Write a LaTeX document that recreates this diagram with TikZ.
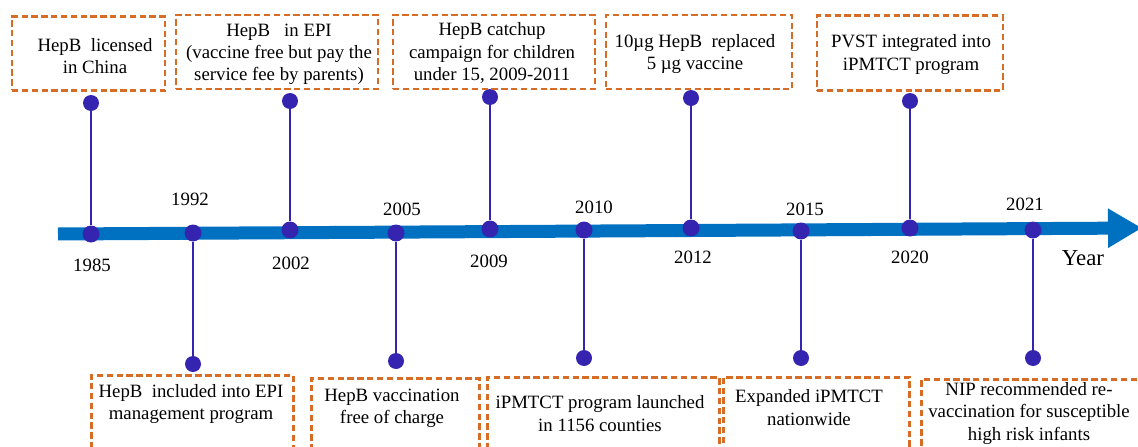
\documentclass[tikz,border=0pt]{standalone}
\usepackage{fontspec}
\setmainfont{Liberation Serif}
\usetikzlibrary{arrows.meta}
\definecolor{axisblue}{RGB}{0,112,192}
\definecolor{dotblue}{RGB}{52,36,176}
\definecolor{boxorange}{RGB}{214,108,38}
\tikzset{
  evbox/.style={draw=boxorange, line width=1.5pt, dash pattern=on 3.6pt off 2pt, inner sep=0pt},
  evtext/.style={align=center, font=\fontsize{10.7}{12.6}\selectfont, inner sep=0pt},
  yeartext/.style={font=\fontsize{10.7}{12.6}\selectfont, inner sep=0pt},
  bigdot/.style={circle, fill=dotblue, minimum size=0.34cm, inner sep=0pt},
  enddot/.style={circle, fill=dotblue, minimum size=0.32cm, inner sep=0pt},
  stem/.style={draw=dotblue, line width=1.4pt},
}
\begin{document}
\begin{tikzpicture}[x=0.02cm, y=-0.02cm]
\useasboundingbox (0,0) rectangle (1138,446);
\clip (0,0) rectangle (1138,446);
% Time axis
\coordinate (axstart) at (58,234);
\coordinate (axend) at (1142,228);
\draw[axisblue, line width=0.26cm, -{Triangle[length=0.68cm, width=0.74cm]}] (axstart) -- (axend);
\node[font=\fontsize{13}{15}\selectfont, inner sep=0pt] (year) at (1083,258) {Year};
% Events: dot on the axis, stem, end dot
\foreach \yr/\px/\ay/\ey in {1985/91/234/103, 1992/193/233/364, 2002/290/230/101,
    2005/396/233/361, 2009/490/229/97, 2010/584/230/358, 2012/691/228/98,
    2015/801/231/358, 2020/910/228/101, 2021/1033/230/358} {
  \node[bigdot] (d\yr) at (\px,\ay) {};
  \node[enddot] (e\yr) at (\px,\ey) {};
  \draw[stem] (d\yr) -- (e\yr);
}
% Year labels
\node[yeartext] (y1985) at (92,265) {1985};
\node[yeartext] (y1992) at (190,199) {1992};
\node[yeartext] (y2002) at (291,263) {2002};
\node[yeartext] (y2005) at (402,209) {2005};
\node[yeartext] (y2009) at (489,261) {2009};
\node[yeartext] (y2010) at (594,207) {2010};
\node[yeartext] (y2012) at (693,257) {2012};
\node[yeartext] (y2015) at (805,209) {2015};
\node[yeartext] (y2020) at (910,257) {2020};
\node[yeartext] (y2021) at (1025,204) {2021};
% Upper boxes
\node[evbox, minimum width=3.06cm, minimum height=1.48cm] (b1985) at (88.5,53.5) {};
\node[evtext] (t1985) at (95,56.5) {HepB\ \ licensed\\in China};
\node[evbox, minimum width=4.04cm, minimum height=1.48cm] (b2002) at (277,52) {};
\node[evtext] (t2002) at (279,54) {HepB\ \ \ in EPI\\(vaccine free but pay the\\service fee by parents)};
\node[evbox, minimum width=4.04cm, minimum height=1.48cm] (b2009) at (494,52) {};
\node[evtext] (t2009) at (492,53) {HepB catchup\\campaign for children\\under 15, 2009-2011};
\node[evbox, minimum width=3.72cm, minimum height=1.48cm] (b2012) at (699,52) {};
\node[evtext] (t2012) at (695,54) {10µg HepB\ \ replaced\\5 µg vaccine};
\node[evbox, minimum width=3.72cm, minimum height=1.5cm] (b2020) at (910,53) {};
\node[evtext] (t2020) at (911,54.5) {PVST integrated into\\iPMTCT program};
% Lower boxes (run past the bottom edge)
\node[evbox, minimum width=4.04cm, minimum height=2cm, anchor=north west] (b1992) at (90,374) {};
\node[evtext] (t1992) at (191,404) {HepB\ \ included into EPI\\management program};
\node[evbox, minimum width=3.36cm, minimum height=2cm, anchor=north west] (b2005) at (310,377) {};
\node[evtext] (t2005) at (392,408.5) {HepB vaccination\\free of charge};
\node[evbox, minimum width=4.64cm, minimum height=2cm, anchor=north west] (b2010) at (486,376) {};
\node[evtext] (t2010) at (600,413.5) {iPMTCT program launched\\in 1156 counties};
\node[evbox, minimum width=3.72cm, minimum height=2cm, anchor=north west] (b2015) at (722,376) {};
\node[evtext] (t2015) at (809,407.5) {Expanded iPMTCT\\nationwide};
\node[evbox, minimum width=4.6cm, minimum height=2cm, anchor=north west] (b2021) at (920,378) {};
\node[evtext] (t2021) at (1029,413.5) {NIP recommended re-\\vaccination for susceptible\\high risk infants};
\end{tikzpicture}
\end{document}
